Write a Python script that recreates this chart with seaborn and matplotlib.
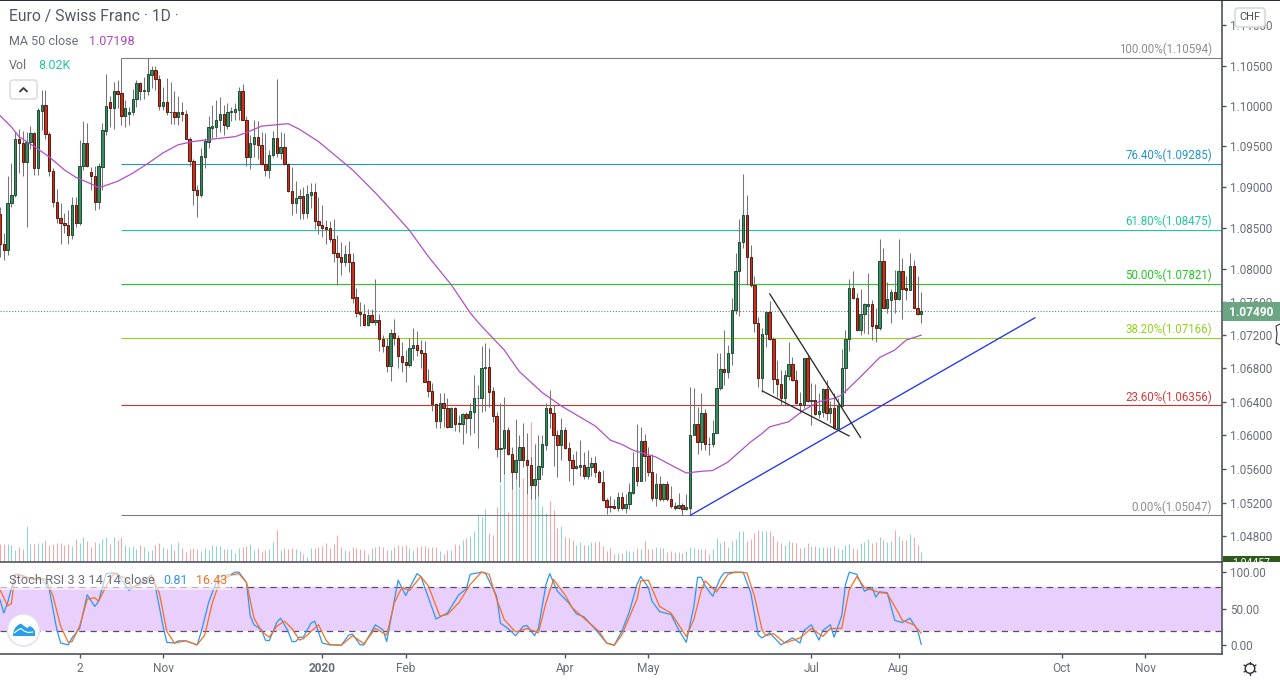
import numpy as np
import matplotlib
matplotlib.use("Agg")
import matplotlib.pyplot as plt
from matplotlib.patches import Circle, FancyBboxPatch, Rectangle
import seaborn as sns

W, H = 1280, 680
BAR_PX = 3.7914   # pixels per daily bar

opens = [
    1.0867, 1.0830, 1.0823, 1.0880, 1.0890, 1.0959, 1.0954, 1.0931, 1.0956, 1.0966,
    1.0923, 1.0994, 1.1001, 1.0965, 1.0920, 1.0882, 1.0862, 1.0856, 1.0853, 1.0842,
    1.0878, 1.0856, 1.0926, 1.0954, 1.0918, 1.0914, 1.0882, 1.0925, 1.0969, 1.1005,
    1.0997, 1.1018, 1.1016, 1.0988, 1.0990, 1.0992, 1.1009, 1.1028, 1.1019, 1.1019,
    1.1038, 1.1045, 1.1033, 1.1000, 1.1005, 1.0992, 1.0993, 1.0986, 1.0993, 1.0990,
    1.0959, 1.0932, 1.0897, 1.0890, 1.0937, 1.0956, 1.0973, 1.0974, 1.0983, 1.0990,
    1.0975, 1.0993, 1.0993, 1.0995, 1.1019, 1.0982, 1.0937, 1.0953, 1.0961, 1.0952,
    1.0928, 1.0921, 1.0939, 1.0960, 1.0942, 1.0949, 1.0928, 1.0895, 1.0880, 1.0886,
    1.0889, 1.0868, 1.0890, 1.0894, 1.0858, 1.0853, 1.0851, 1.0850, 1.0837, 1.0820,
    1.0814, 1.0809, 1.0818, 1.0809, 1.0766, 1.0748, 1.0745, 1.0732, 1.0744, 1.0736,
    1.0738, 1.0715, 1.0707, 1.0683, 1.0723, 1.0717, 1.0695, 1.0688, 1.0684, 1.0705,
    1.0708, 1.0702, 1.0699, 1.0665, 1.0653, 1.0637, 1.0617, 1.0638, 1.0632, 1.0610,
    1.0632, 1.0614, 1.0613, 1.0625, 1.0620, 1.0628, 1.0644, 1.0645, 1.0681, 1.0682,
    1.0653, 1.0623, 1.0583, 1.0585, 1.0606, 1.0577, 1.0556, 1.0570, 1.0586, 1.0570,
    1.0564, 1.0541, 1.0548, 1.0562, 1.0588, 1.0632, 1.0627, 1.0600, 1.0588, 1.0606,
    1.0585, 1.0571, 1.0561, 1.0562, 1.0564, 1.0552, 1.0562, 1.0567, 1.0556, 1.0544,
    1.0523, 1.0516, 1.0516, 1.0513, 1.0527, 1.0514, 1.0518, 1.0531, 1.0562, 1.0546,
    1.0593, 1.0575, 1.0556, 1.0525, 1.0542, 1.0524, 1.0542, 1.0524, 1.0516, 1.0514,
    1.0517, 1.0512, 1.0514, 1.0600, 1.0613, 1.0592, 1.0626, 1.0590, 1.0589, 1.0603,
    1.0657, 1.0679, 1.0675, 1.0699, 1.0750, 1.0797, 1.0833, 1.0866, 1.0815, 1.0780,
    1.0735, 1.0668, 1.0721, 1.0748, 1.0715, 1.0667, 1.0661, 1.0645, 1.0671, 1.0685,
    1.0666, 1.0639, 1.0636, 1.0693, 1.0641, 1.0642, 1.0625, 1.0628, 1.0655, 1.0626,
    1.0633, 1.0609, 1.0635, 1.0681, 1.0715, 1.0777, 1.0765, 1.0726, 1.0746, 1.0755,
    1.0757, 1.0732, 1.0729, 1.0810, 1.0753, 1.0763, 1.0772, 1.0764, 1.0797, 1.0777,
    1.0775, 1.0804, 1.0753, 1.0745,
]
closes = [
    1.0830, 1.0823, 1.0880, 1.0890, 1.0959, 1.0954, 1.0931, 1.0956, 1.0966, 1.0923,
    1.0995, 1.1001, 1.0965, 1.0920, 1.0882, 1.0862, 1.0856, 1.0853, 1.0842, 1.0878,
    1.0856, 1.0926, 1.0954, 1.0926, 1.0914, 1.0882, 1.0926, 1.0970, 1.1000, 1.0997,
    1.1018, 1.1015, 1.0988, 1.0997, 1.0992, 1.1009, 1.1028, 1.1019, 1.1020, 1.1040,
    1.1045, 1.1033, 1.1000, 1.1005, 1.0992, 1.0993, 1.0986, 1.0993, 1.0990, 1.0959,
    1.0932, 1.0897, 1.0890, 1.0938, 1.0957, 1.0974, 1.0975, 1.0983, 1.0990, 1.0976,
    1.0993, 1.0994, 1.0996, 1.1019, 1.0982, 1.0937, 1.0954, 1.0961, 1.0952, 1.0928,
    1.0921, 1.0939, 1.0960, 1.0942, 1.0949, 1.0928, 1.0895, 1.0880, 1.0886, 1.0889,
    1.0868, 1.0891, 1.0894, 1.0858, 1.0853, 1.0850, 1.0849, 1.0837, 1.0820, 1.0814,
    1.0809, 1.0818, 1.0809, 1.0765, 1.0747, 1.0745, 1.0732, 1.0744, 1.0736, 1.0738,
    1.0715, 1.0707, 1.0683, 1.0723, 1.0717, 1.0695, 1.0688, 1.0684, 1.0705, 1.0708,
    1.0702, 1.0699, 1.0664, 1.0653, 1.0637, 1.0617, 1.0638, 1.0632, 1.0610, 1.0632,
    1.0613, 1.0613, 1.0625, 1.0620, 1.0629, 1.0644, 1.0645, 1.0681, 1.0682, 1.0652,
    1.0623, 1.0583, 1.0585, 1.0606, 1.0577, 1.0556, 1.0570, 1.0586, 1.0570, 1.0564,
    1.0541, 1.0548, 1.0563, 1.0589, 1.0632, 1.0627, 1.0600, 1.0588, 1.0606, 1.0585,
    1.0571, 1.0561, 1.0563, 1.0564, 1.0552, 1.0562, 1.0567, 1.0556, 1.0544, 1.0523,
    1.0515, 1.0515, 1.0513, 1.0527, 1.0514, 1.0518, 1.0532, 1.0562, 1.0546, 1.0593,
    1.0575, 1.0556, 1.0525, 1.0542, 1.0524, 1.0542, 1.0524, 1.0516, 1.0514, 1.0517,
    1.0512, 1.0515, 1.0600, 1.0613, 1.0592, 1.0626, 1.0590, 1.0589, 1.0603, 1.0657,
    1.0679, 1.0675, 1.0699, 1.0750, 1.0798, 1.0833, 1.0866, 1.0815, 1.0780, 1.0735,
    1.0668, 1.0721, 1.0748, 1.0715, 1.0667, 1.0661, 1.0645, 1.0672, 1.0685, 1.0666,
    1.0639, 1.0636, 1.0693, 1.0641, 1.0642, 1.0625, 1.0629, 1.0655, 1.0626, 1.0632,
    1.0609, 1.0635, 1.0681, 1.0715, 1.0777, 1.0765, 1.0726, 1.0746, 1.0757, 1.0757,
    1.0731, 1.0729, 1.0810, 1.0753, 1.0764, 1.0772, 1.0764, 1.0797, 1.0776, 1.0775,
    1.0804, 1.0753, 1.0745, 1.0749,
]
highs = [
    1.0876, 1.0844, 1.0913, 1.0930, 1.0968, 1.0971, 1.0969, 1.0968, 1.0975, 1.0968,
    1.0998, 1.1020, 1.1020, 1.0968, 1.0923, 1.0898, 1.0880, 1.0868, 1.0872, 1.0888,
    1.0888, 1.0958, 1.0981, 1.0979, 1.0925, 1.0926, 1.0929, 1.0979, 1.1040, 1.1012,
    1.1030, 1.1032, 1.1059, 1.1007, 1.0999, 1.1021, 1.1032, 1.1030, 1.1036, 1.1059,
    1.1049, 1.1050, 1.1038, 1.1024, 1.1034, 1.1030, 1.1018, 1.1012, 1.1005, 1.0995,
    1.0962, 1.0935, 1.0903, 1.0948, 1.0960, 1.0987, 1.1001, 1.1007, 1.1011, 1.1001,
    1.1003, 1.0999, 1.1003, 1.1023, 1.1027, 1.0987, 1.0964, 1.0983, 1.0981, 1.0968,
    1.0966, 1.0945, 1.0969, 1.1033, 1.0968, 1.0967, 1.0929, 1.0925, 1.0907, 1.0898,
    1.0900, 1.0902, 1.0905, 1.0905, 1.0888, 1.0878, 1.0860, 1.0859, 1.0861, 1.0842,
    1.0833, 1.0829, 1.0834, 1.0820, 1.0777, 1.0760, 1.0757, 1.0751, 1.0751, 1.0788,
    1.0746, 1.0720, 1.0717, 1.0727, 1.0739, 1.0720, 1.0712, 1.0702, 1.0717, 1.0728,
    1.0725, 1.0714, 1.0713, 1.0679, 1.0662, 1.0638, 1.0650, 1.0650, 1.0644, 1.0634,
    1.0634, 1.0624, 1.0627, 1.0628, 1.0638, 1.0672, 1.0660, 1.0707, 1.0711, 1.0705,
    1.0658, 1.0628, 1.0639, 1.0646, 1.0610, 1.0586, 1.0619, 1.0600, 1.0614, 1.0602,
    1.0574, 1.0590, 1.0600, 1.0600, 1.0638, 1.0654, 1.0636, 1.0606, 1.0621, 1.0610,
    1.0592, 1.0578, 1.0581, 1.0594, 1.0580, 1.0582, 1.0574, 1.0575, 1.0558, 1.0558,
    1.0525, 1.0528, 1.0524, 1.0533, 1.0532, 1.0530, 1.0543, 1.0580, 1.0613, 1.0610,
    1.0601, 1.0586, 1.0577, 1.0555, 1.0552, 1.0543, 1.0545, 1.0540, 1.0521, 1.0531,
    1.0520, 1.0530, 1.0658, 1.0656, 1.0634, 1.0651, 1.0631, 1.0598, 1.0618, 1.0698,
    1.0699, 1.0726, 1.0708, 1.0765, 1.0819, 1.0861, 1.0916, 1.0890, 1.0829, 1.0791,
    1.0742, 1.0728, 1.0749, 1.0761, 1.0718, 1.0690, 1.0678, 1.0678, 1.0712, 1.0694,
    1.0678, 1.0652, 1.0693, 1.0696, 1.0662, 1.0661, 1.0650, 1.0656, 1.0666, 1.0641,
    1.0650, 1.0644, 1.0703, 1.0726, 1.0788, 1.0798, 1.0771, 1.0776, 1.0759, 1.0795,
    1.0762, 1.0753, 1.0836, 1.0826, 1.0784, 1.0776, 1.0799, 1.0837, 1.0813, 1.0791,
    1.0820, 1.0811, 1.0791, 1.0772,
]
lows = [
    1.0815, 1.0811, 1.0817, 1.0875, 1.0888, 1.0917, 1.0913, 1.0851, 1.0947, 1.0915,
    1.0915, 1.0970, 1.0959, 1.0913, 1.0876, 1.0856, 1.0831, 1.0844, 1.0831, 1.0836,
    1.0851, 1.0853, 1.0921, 1.0925, 1.0896, 1.0872, 1.0873, 1.0896, 1.0964, 1.0974,
    1.0972, 1.0997, 1.0976, 1.0974, 1.0976, 1.0989, 1.0999, 1.1007, 1.1009, 1.1014,
    1.1022, 1.1020, 1.0995, 1.0995, 1.0989, 1.0978, 1.0978, 1.0976, 1.0981, 1.0959,
    1.0926, 1.0878, 1.0863, 1.0888, 1.0923, 1.0948, 1.0960, 1.0962, 1.0968, 1.0964,
    1.0972, 1.0981, 1.0983, 1.0983, 1.0982, 1.0926, 1.0922, 1.0937, 1.0935, 1.0927,
    1.0913, 1.0911, 1.0937, 1.0937, 1.0935, 1.0927, 1.0894, 1.0866, 1.0868, 1.0861,
    1.0861, 1.0862, 1.0874, 1.0849, 1.0843, 1.0839, 1.0830, 1.0833, 1.0808, 1.0780,
    1.0793, 1.0804, 1.0796, 1.0759, 1.0742, 1.0731, 1.0731, 1.0731, 1.0734, 1.0732,
    1.0701, 1.0700, 1.0676, 1.0665, 1.0708, 1.0680, 1.0676, 1.0663, 1.0682, 1.0690,
    1.0695, 1.0680, 1.0664, 1.0646, 1.0629, 1.0609, 1.0609, 1.0610, 1.0609, 1.0610,
    1.0605, 1.0604, 1.0590, 1.0602, 1.0600, 1.0602, 1.0585, 1.0628, 1.0629, 1.0634,
    1.0616, 1.0574, 1.0544, 1.0554, 1.0576, 1.0536, 1.0548, 1.0538, 1.0562, 1.0530,
    1.0524, 1.0524, 1.0528, 1.0553, 1.0582, 1.0608, 1.0563, 1.0550, 1.0570, 1.0584,
    1.0546, 1.0541, 1.0560, 1.0552, 1.0548, 1.0548, 1.0552, 1.0550, 1.0543, 1.0522,
    1.0507, 1.0509, 1.0512, 1.0510, 1.0511, 1.0508, 1.0512, 1.0530, 1.0540, 1.0546,
    1.0546, 1.0552, 1.0522, 1.0516, 1.0522, 1.0522, 1.0522, 1.0514, 1.0511, 1.0512,
    1.0505, 1.0511, 1.0505, 1.0600, 1.0578, 1.0582, 1.0582, 1.0576, 1.0586, 1.0602,
    1.0654, 1.0660, 1.0668, 1.0684, 1.0746, 1.0743, 1.0826, 1.0780, 1.0778, 1.0724,
    1.0658, 1.0652, 1.0706, 1.0714, 1.0650, 1.0646, 1.0636, 1.0636, 1.0666, 1.0665,
    1.0637, 1.0626, 1.0632, 1.0640, 1.0612, 1.0624, 1.0620, 1.0622, 1.0618, 1.0614,
    1.0607, 1.0607, 1.0634, 1.0650, 1.0701, 1.0764, 1.0726, 1.0720, 1.0722, 1.0721,
    1.0714, 1.0712, 1.0726, 1.0753, 1.0747, 1.0734, 1.0747, 1.0762, 1.0740, 1.0762,
    1.0774, 1.0753, 1.0744, 1.0735,
]
volumes = [
    13.8, 13.8, 13.8, 13.0, 9.2, 11.8, 10.0, 27.2, 13.8, 13.8,
    14.2, 14.8, 16.8, 13.0, 13.8, 14.8, 14.8, 13.0, 13.8, 12.2,
    17.5, 14.8, 18.8, 16.0, 11.8, 15.5, 14.2, 17.2, 19.2, 13.5,
    19.2, 16.8, 19.2, 13.0, 11.8, 12.2, 10.0, 13.0, 11.8, 8.5,
    9.2, 13.0, 14.2, 11.8, 9.8, 13.8, 9.2, 15.2, 11.0, 8.0,
    10.0, 10.5, 9.8, 8.8, 10.5, 9.2, 13.0, 12.2, 12.2, 10.0,
    9.8, 9.8, 7.2, 10.5, 11.8, 12.2, 13.8, 9.2, 10.5, 8.0,
    9.2, 10.0, 15.2, 24.2, 9.2, 11.0, 9.8, 10.5, 9.8, 8.5,
    6.2, 4.2, 10.8, 11.0, 11.8, 12.2, 14.8, 11.0, 13.5, 20.5,
    11.8, 9.2, 8.8, 11.8, 11.0, 9.8, 9.2, 6.2, 10.5, 11.8,
    12.2, 11.2, 9.2, 9.2, 11.8, 13.0, 12.5, 13.0, 10.5, 9.2,
    11.8, 12.5, 12.2, 11.0, 11.2, 11.8, 8.8, 6.2, 9.2, 9.2,
    13.8, 13.0, 16.8, 18.5, 20.0, 23.5, 36.0, 34.2, 40.0, 22.2,
    20.5, 41.8, 58.8, 66.2, 38.0, 58.0, 63.0, 55.5, 63.0, 51.8,
    105.5, 89.0, 50.5, 42.2, 36.8, 46.0, 39.2, 25.5, 27.2, 18.8,
    18.5, 16.8, 13.0, 15.0, 13.0, 13.0, 15.0, 15.5, 16.0, 12.2,
    8.5, 10.5, 6.2, 6.8, 6.8, 9.2, 8.5, 8.5, 10.5, 10.0,
    16.0, 10.0, 10.0, 11.5, 11.0, 10.8, 7.8, 8.5, 8.0, 7.8,
    7.2, 8.5, 11.5, 10.5, 9.8, 9.8, 10.0, 6.2, 10.0, 18.5,
    14.8, 15.8, 11.8, 16.0, 17.5, 23.5, 23.5, 16.0, 17.5, 21.8,
    24.2, 23.5, 23.5, 23.5, 20.0, 16.2, 14.8, 13.0, 15.8, 15.0,
    14.2, 11.0, 11.8, 14.2, 12.5, 12.5, 11.8, 11.8, 11.8, 11.2,
    12.5, 10.8, 9.8, 13.2, 13.8, 11.0, 9.8, 14.8, 15.5, 17.2,
    14.8, 15.5, 18.8, 16.8, 15.5, 16.0, 24.2, 19.8, 16.8, 16.8,
    21.2, 18.8, 13.0, 8.02,
]

ma_idx = [0, 3, 5, 9, 13, 17, 20, 24, 26, 31, 35, 39, 43, 47, 51, 56, 62, 65, 69, 76, 79, 84,
          93, 99, 103, 108, 113, 119, 124, 126, 128, 133, 137, 143, 148, 157, 161, 164,
          167, 173, 178, 181, 185, 188, 192, 195, 198, 201, 203, 208, 212, 216, 220, 222, 227, 232, 236, 239, 243]
ma_vals = [1.0988, 1.0974, 1.0962, 1.0950, 1.0937, 1.0921, 1.0912, 1.0904, 1.0899, 1.0907, 1.0917,
           1.0929, 1.0942, 1.0952, 1.0956, 1.0959, 1.0962, 1.0967, 1.0975, 1.0978, 1.0971, 1.0956,
           1.0921, 1.0893, 1.0873, 1.0847, 1.0815, 1.0781, 1.0747, 1.0736, 1.0726, 1.0702, 1.0676,
           1.0651, 1.0635, 1.0611, 1.0594, 1.0589,
           1.0582, 1.0574, 1.0562, 1.0555, 1.0557, 1.0558, 1.0568, 1.0580, 1.0592, 1.0602, 1.0610,
           1.0616, 1.0630, 1.0640, 1.0644, 1.0648, 1.0670, 1.0693, 1.0702, 1.0714, 1.0720]

k_idx = [0, 1, 2, 4, 5, 9, 11, 13, 15, 16, 18, 19, 21, 23, 25, 26, 28, 30, 31, 34, 37, 40, 41, 43, 44, 46, 47, 49,
         52, 53, 55, 57, 58, 61, 62, 63, 65, 66, 67, 69, 70, 71, 73, 74, 76, 77, 78, 79, 80, 82, 83, 85, 87, 90,
         92, 93, 95, 96, 99, 101, 102, 105, 107, 110, 111, 115, 118, 121, 123, 124, 127, 128, 131, 132, 134, 136,
         138, 139, 141, 142, 144, 145, 147, 150, 152, 154, 157, 160, 162, 164, 166, 168, 169, 171, 172, 174, 177,
         179, 181, 183, 184, 185, 186, 188, 190, 191, 194, 196, 198, 200, 201, 203, 206, 209, 211, 212, 214, 216,
         217, 219, 220, 222, 223, 224, 226, 228, 230, 231, 232, 234, 236, 238, 240, 242, 243]
k_vals = [62.5, 44, 58, 97, 97, 90, 92, 76, 21, 3, 0.5, 10, 23, 69, 53, 60, 98, 99, 98, 75, 86, 96, 80, 26, 4, 3, 6, 6,
          0.5, 17, 58, 86, 95, 97, 100, 100, 86, 40, 28, 21, 7, 6, 31, 37, 19, 5, 5, 11, 11, 30, 33, 3, 0.5, 0,
          14, 15, 0.5, 0.5, 28, 21, 5, 89, 68, 98, 94, 36, 44, 69, 77, 97, 100, 99, 67, 30, 23, 13,
          26, 27, 13, 23, 83, 98, 74, 58, 43, 39, 22, 3, 0, 19, 46, 83, 94, 79, 60, 46, 42,
          21, 4, 53, 93, 93, 81, 67, 92, 99, 100, 100, 72, 14, 10, 17, 0.5, 10, 3, 20, 28, 7,
          20, 28, 11, 40, 83, 100, 97, 74, 79, 66, 73, 72, 34, 31, 37, 21, 0.81]
d_idx = [0, 2, 3, 4, 9, 12, 14, 16, 18, 19, 21, 23, 25, 26, 28, 30, 33, 35, 38, 40, 42, 44, 46, 49, 52, 54, 56, 58,
         61, 63, 65, 67, 69, 71, 73, 75, 77, 79, 80, 84, 86, 87, 90, 93, 96, 99, 102, 104, 106, 108, 111, 113, 116,
         118, 121, 124, 127, 129, 131, 133, 136, 139, 142, 144, 146, 149, 151, 154, 158, 160, 162, 164, 168, 169,
         171, 174, 177, 181, 183, 185, 186, 189, 192, 194, 197, 199, 201, 202, 204, 207, 211, 214, 217, 219, 222,
         224, 226, 228, 232, 234, 237, 238, 241, 243]
d_vals = [76, 54, 57, 97, 90, 91, 67, 26, 4, 5, 26, 63, 65, 60, 81, 98, 92, 79, 86, 94, 72, 19, 3, 6, 0.5, 14, 58, 88,
          96, 98, 86, 37, 19, 11, 26, 33, 23, 7, 9, 28, 7, 1, 0, 13, 2, 23, 14, 58, 79, 75, 94, 81, 40,
          42, 58, 83, 100, 97, 63, 35, 18, 23, 17, 58, 90, 69, 51, 37, 19, 3, 0, 14, 63, 88,
          89, 53, 44, 12, 35, 76, 88, 73, 97, 100, 99, 67, 21, 13, 16, 3, 10, 23, 12, 23, 23,
          76, 94, 79, 72, 71, 44, 34, 28, 16.43]

fib_levels = [1.10594, 1.09285, 1.08475, 1.07821, 1.07166, 1.06356, 1.05047]
fib_pcts = ["100.00%", "76.40%", "61.80%", "50.00%", "38.20%", "23.60%", "0.00%"]
fib_colors = ["#7d7d7d", "#2196c9", "#1fc99c", "#24c724", "#92d31c", "#c93230", "#7d7d7d"]
fib_text_colors = ["#8e8e8e", "#2196c9", "#1fc99c", "#24c724", "#92d31c", "#d8393a", "#8e8e8e"]
fib_start = 32

price_ticks = [1.11, 1.105, 1.10, 1.095, 1.09, 1.085, 1.08, 1.076, 1.072, 1.068, 1.064, 1.06, 1.056, 1.052, 1.048]
date_ticks = [21, 43, 85, 107, 149, 171, 214, 237, 280, 302]
date_labels = ["2", "Nov", "2020", "Feb", "Apr", "May", "Jul", "Aug", "Oct", "Nov"]
stoch_ticks = [100, 50, 0]

wedge_top_x, wedge_top_y = [203, 227], [1.0770, 1.0597]
wedge_low_x, wedge_low_y = [201, 224], [1.0653, 1.0599]
trend_x, trend_y = [182, 273], [1.05047, 1.0741]

AXIS = "#50535e"
LABEL = "#6a6d78"
UP = "#3c8a5f"
DOWN = "#c9311f"
UP_VOL = "#8fd6ca"
DOWN_VOL = "#f6a6a6"


def px_axes(x0, y0, x1, y1):
    return fig.add_axes([x0 / W, 1 - y1 / H, (x1 - x0) / W, (y1 - y0) / H])


sns.set_theme(style="white")
plt.rcParams["font.family"] = ["Roboto", "DejaVu Sans"]

fig = plt.figure(figsize=(W / 100, H / 100), dpi=100, facecolor="white")
ax_vol = px_axes(0, 0, 1222, 562.3)
ax = px_axes(0, 0, 1222, 562.3)
ax_st = px_axes(0, 562.3, 1222, 654)
ui = fig.add_axes([0, 0, 1, 1], zorder=10)
ui.set_xlim(0, W)
ui.set_ylim(H, 0)
ui.axis("off")
ui.patch.set_alpha(0)

idx = np.arange(len(opens))
o, c, hi, lo = map(np.array, (opens, closes, highs, lows))
rising = c >= o
x_max = 1222 / BAR_PX

# volume pane sits behind the price pane
ax_vol.vlines(idx, 0, volumes, colors=np.where(rising, UP_VOL, DOWN_VOL), lw=0.75)
ax_vol.set_xlim(0, x_max)
ax_vol.set_ylim(0, 421.7)
ax_vol.axis("off")

ax.patch.set_alpha(0)
ax.set_yscale("log")
ax.set_xlim(0, x_max)
ax.set_ylim(1.04495, 1.11318)

for level, pct, col, tcol in zip(fib_levels, fib_pcts, fib_colors, fib_text_colors):
    line = ax.hlines(level, fib_start, x_max, color=col, lw=0.8, zorder=1)
    line.set_snap(True)
    ax.text(319.7, level * 1.0002, f"{pct}({level:.5f})", color=tcol, fontsize=8.3, ha="right", va="bottom")

ax.axhline(closes[-1], color="#5f9077", lw=0.8, ls=(0, (1, 1.6)), zorder=1)

ax.vlines(idx, lo, hi, color="#757575", lw=0.75, zorder=2)
ax.bar(idx[rising], (c - o)[rising], bottom=o[rising], width=0.62, color=UP, edgecolor="#1e4d36", lw=0.7, zorder=3)
ax.bar(idx[~rising], (c - o)[~rising], bottom=o[~rising], width=0.62, color=DOWN, edgecolor="#5a1a10", lw=0.7, zorder=3)

sns.lineplot(x=ma_idx, y=ma_vals, color="#b14fc7", lw=0.9, errorbar=None, ax=ax, zorder=4)
ax.plot(trend_x, trend_y, color="#1f35f0", lw=0.95, zorder=5)
ax.plot(wedge_top_x, wedge_top_y, color="#2b2b2b", lw=0.95, zorder=5)
ax.plot(wedge_low_x, wedge_low_y, color="#2b2b2b", lw=0.95, zorder=5)
ax.set_xlim(0, x_max)
ax.set_ylim(1.04495, 1.11318)

ax.set_xticks([])
ax.minorticks_off()
ax.yaxis.tick_right()
ax.set_yticks(price_ticks)
ax.set_yticklabels([f"{t:.5f}" for t in price_ticks])
ax.yaxis.set_minor_locator(plt.NullLocator())
ax.tick_params(axis="y", length=3, width=1, color=AXIS, labelcolor=LABEL, labelsize=8.4, pad=3, right=True)
ax.set_xlabel("")
ax.set_ylabel("")

# stochastic RSI pane
ax_st.axhspan(20, 80, color="#e9cffc", lw=0, zorder=0)
ax_st.axhline(80, color="#5b4a72", lw=0.9, ls=(0, (5, 4)), zorder=1)
ax_st.axhline(20, color="#5b4a72", lw=0.9, ls=(0, (5, 4)), zorder=1)
sns.lineplot(x=k_idx, y=k_vals, color="#2f96f0", lw=0.9, errorbar=None, ax=ax_st, zorder=2)
sns.lineplot(x=d_idx, y=d_vals, color="#f5701f", lw=0.9, errorbar=None, ax=ax_st, zorder=3)
ax_st.set_xlim(0, x_max)
ax_st.set_ylim(-12, 113.5)
ax_st.yaxis.tick_right()
ax_st.set_yticks(stoch_ticks)
ax_st.set_yticklabels([f"{t:.2f}" for t in stoch_ticks])
ax_st.set_xticks(date_ticks)
ax_st.set_xticklabels(date_labels)
ax_st.tick_params(axis="y", length=3, width=1, color=AXIS, labelcolor=LABEL, labelsize=8.4, pad=3, right=True)
ax_st.tick_params(axis="x", length=3, width=1, color=AXIS, labelcolor=LABEL, labelsize=8.6, pad=3, bottom=True)
ax_st.get_xticklabels()[2].set_fontweight("bold")
ax_st.set_xlabel("")
ax_st.set_ylabel("")

for a in (ax, ax_st):
    for side in ("top", "left"):
        a.spines[side].set_visible(False)
    for side in ("right", "bottom"):
        a.spines[side].set_color(AXIS)
        a.spines[side].set_linewidth(1.2)
ax.spines["bottom"].set_visible(False)
ax_st.spines["top"].set_visible(True)
ax_st.spines["top"].set_color(AXIS)
ax_st.spines["top"].set_linewidth(1.2)

# chart furniture, in pixel coordinates
ui.add_patch(Rectangle((0, 0), W, 1.2, color="#2a2e39", lw=0))
ui.add_patch(Rectangle((1222.6, 302), 58, 19, color="#6ba583", lw=0))
ui.text(1251, 312, "1.07490", color="white", fontsize=8.6, fontweight="bold", ha="center", va="center")
strip = Rectangle((1222.6, 556), 58, 6, color="#2f5a1c", lw=0)
ui.add_patch(strip)
clipped = ui.text(1251, 563.5, "1.04457", color="white", fontsize=7.5, ha="center", va="center")
clipped.set_clip_path(strip)

ui.text(9, 16, "Euro / Swiss Franc · 1D ·", color="#555862", fontsize=11.3, va="center")
ui.text(9, 41.5, "MA 50 close", color="#6a6d78", fontsize=9, va="center")
ui.text(89, 41.5, "1.07198", color="#ab47bc", fontsize=9, va="center")
ui.text(9, 65.5, "Vol", color="#6a6d78", fontsize=9, va="center")
ui.text(38, 65.5, "8.02K", color="#26c6a0", fontsize=9, va="center")

ui.add_patch(FancyBboxPatch((10, 80), 27, 19, boxstyle="round,pad=0,rounding_size=3", fc="white", ec="#d8d8dc", lw=1))
ui.plot([20, 23.5, 27], [91.5, 88, 91.5], color="#33363f", lw=1.3)

ui.add_patch(FancyBboxPatch((1235, 8), 30, 19, boxstyle="round,pad=0,rounding_size=3", fc="white", ec="#d0d2d8", lw=1))
ui.text(1250, 17.5, "CHF", color="#4a4d57", fontsize=8, ha="center", va="center")

ui.add_patch(Rectangle((0, 571.5), 231, 18, color="white", alpha=0.6, lw=0))
ui.text(9, 580, "Stoch RSI 3 3 14 14 close", color="#6a6d78", fontsize=9.3, va="center")
ui.text(163, 580, "0.81", color="#2f96f0", fontsize=9, va="center")
ui.text(196, 580, "16.43", color="#f5701f", fontsize=9, va="center")

# logo
ui.add_patch(Circle((23.5, 630), 16, fc="white", ec="#e3dcea", lw=1))
ui.fill([13, 15, 18, 21, 24, 27, 30, 33, 35, 35, 13],
        [633, 628, 625, 623.5, 626, 628, 626, 628, 631, 636, 636], color="#2a9fe8", lw=0)
ui.plot([14, 18, 21, 24, 28, 33], [633, 630, 628.5, 631, 632.5, 632], color="white", lw=0.8)

# settings gear
ui.add_patch(Circle((1250, 668.5), 4.8, fc="white", ec="#2a2e39", lw=1))
for ang in np.deg2rad(np.arange(0, 360, 60) + 30):
    ui.plot([1250 + 4.8 * np.cos(ang), 1250 + 6.8 * np.cos(ang)],
            [668.5 + 4.8 * np.sin(ang), 668.5 + 6.8 * np.sin(ang)], color="#2a2e39", lw=1)

# cursor remnant on the price scale
ui.plot([1280, 1276, 1277, 1276, 1280], [324, 326, 334, 343, 345], color="#33363f", lw=0.8)

fig.savefig("out.png", dpi=100, facecolor="white")
